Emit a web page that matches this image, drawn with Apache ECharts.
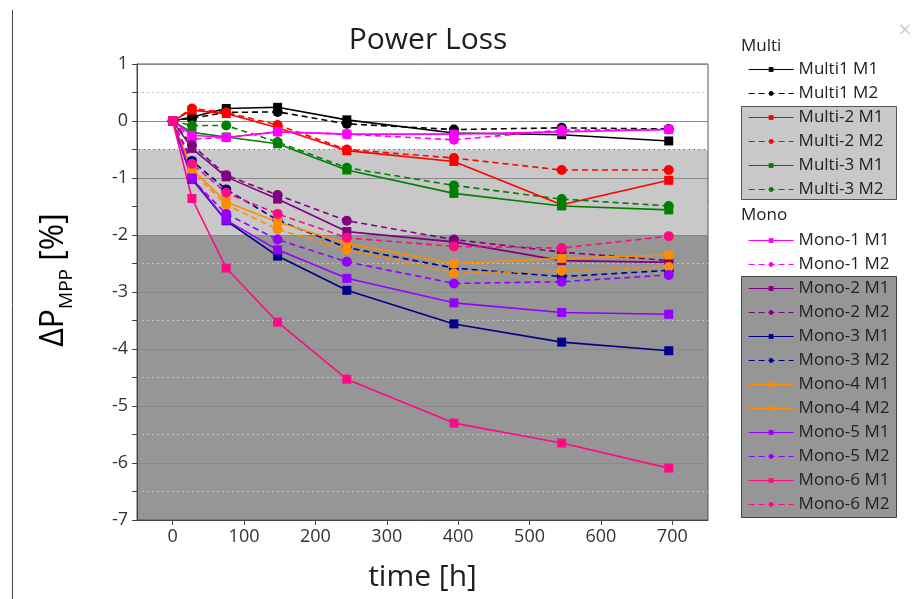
<!DOCTYPE html>
<html>
<head>
<meta charset="utf-8">
<script src="https://cdn.jsdelivr.net/npm/echarts@6/dist/echarts.min.js"></script>
<style>
  html, body { margin: 0; padding: 0; background: #ffffff; }
  #chart { width: 912px; height: 599px; }
</style>
</head>
<body>
<div id="chart"></div>
<script>
// Exposure time of each measurement, in hours
const hours = [0, 27, 75, 147, 244, 394, 545, 695];
const timeTicks = [0, 100, 200, 300, 400, 500, 600, 700];

// Change of MPP power in percent, one array per module and measurement
const multi1M1 = [0, 0.07, 0.22, 0.24, 0.02, -0.21, -0.24, -0.35];
const multi1M2 = [0, 0.05, 0.15, 0.16, -0.05, -0.15, -0.12, -0.14];
const multi2M1 = [0, 0.19, 0.13, -0.12, -0.52, -0.71, -1.47, -1.04];
const multi2M2 = [0, 0.22, 0.15, -0.07, -0.50, -0.65, -0.86, -0.86];
const multi3M1 = [0, -0.20, -0.28, -0.40, -0.86, -1.27, -1.49, -1.56];
const multi3M2 = [0, -0.08, -0.08, -0.37, -0.82, -1.13, -1.37, -1.49];
const mono1M1 = [0, -0.25, -0.29, -0.19, -0.23, -0.23, -0.19, -0.15];
const mono1M2 = [0, -0.32, -0.29, -0.19, -0.23, -0.33, -0.16, -0.15];
const mono2M1 = [0, -0.48, -0.98, -1.37, -1.94, -2.12, -2.45, -2.48];
const mono2M2 = [0, -0.42, -0.95, -1.30, -1.75, -2.08, -2.30, -2.45];
const mono3M1 = [0, -1.02, -1.75, -2.37, -2.97, -3.56, -3.88, -4.03];
const mono3M2 = [0, -0.70, -1.20, -1.74, -2.22, -2.58, -2.73, -2.62];
const mono4M1 = [0, -0.85, -1.42, -1.77, -2.15, -2.50, -2.41, -2.35];
const mono4M2 = [0, -0.90, -1.47, -1.90, -2.26, -2.67, -2.63, -2.56];
const mono5M1 = [0, -1.00, -1.74, -2.26, -2.76, -3.19, -3.36, -3.39];
const mono5M2 = [0, -1.02, -1.63, -2.08, -2.47, -2.85, -2.82, -2.70];
const mono6M1 = [0, -1.36, -2.58, -3.53, -4.53, -5.30, -5.65, -6.09];
const mono6M2 = [0, -0.75, -1.26, -1.63, -2.05, -2.20, -2.23, -2.02];

const multiNames = ['Multi1 M1', 'Multi1 M2', 'Multi-2 M1', 'Multi-2 M2', 'Multi-3 M1', 'Multi-3 M2'];
const monoNames = ['Mono-1 M1', 'Mono-1 M2', 'Mono-2 M1', 'Mono-2 M2', 'Mono-3 M1', 'Mono-3 M2',
                   'Mono-4 M1', 'Mono-4 M2', 'Mono-5 M1', 'Mono-5 M2', 'Mono-6 M1', 'Mono-6 M2'];
const seriesValues = [multi1M1, multi1M2, multi2M1, multi2M2, multi3M1, multi3M2,
                      mono1M1, mono1M2, mono2M1, mono2M2, mono3M1, mono3M2,
                      mono4M1, mono4M2, mono5M1, mono5M2, mono6M1, mono6M2];

// Loss bands: white down to -0.5 %, light grey to -2 %, dark grey below
const lightBand = [-0.5, -2];
const darkBand = [-2, -7];

// Line colour per module pair
const pairColors = ['#000000', '#ff0000', '#008000', '#ff00ff', '#800080',
                    '#00008b', '#ff8c00', '#9400ff', '#ff0a84'];

const FONT = 'Open Sans';
const names = multiNames.concat(monoNames);

const series = names.map((name, i) => {
  const color = pairColors[Math.floor(i / 2)];
  const second = i % 2 === 1;
  const s = {
    name: name,
    type: 'line',
    data: hours.map((h, k) => [h, seriesValues[i][k]]),
    symbol: second ? 'circle' : 'rect',
    symbolSize: second ? 10 : 9,
    showSymbol: true,
    color: color,
    lineStyle: { color: color, width: 1.6, type: second ? [6, 4] : 'solid' },
    itemStyle: { color: color },
    emphasis: { disabled: true },
    z: 2
  };
  if (i === 0) {
    s.markArea = {
      silent: true,
      z: 0.5,
      data: [
        [{ yAxis: lightBand[0], itemStyle: { color: '#c8c8c8' } }, { yAxis: lightBand[1] }],
        [{ yAxis: darkBand[0], itemStyle: { color: '#969696' } }, { yAxis: darkBand[1] }]
      ]
    };
    s.markLine = {
      silent: true,
      z: 1.2,
      symbol: 'none',
      label: { show: false },
      lineStyle: { color: '#555555', width: 1, type: [3, 2] },
      data: [{ yAxis: lightBand[0] }]
    };
  }
  return s;
});

// Mono-4 entries are both keyed with a plain line
const monoLegendData = monoNames.map(n => {
  if (n === 'Mono-4 M2') return { name: n, lineStyle: { type: 'solid' } };
  return { name: n };
});

const legendCommon = {
  orient: 'vertical',
  left: 743,
  itemWidth: 45,
  itemHeight: 6,
  itemGap: 7,
  selectedMode: false,
  lineStyle: { width: 1.2 },
  textStyle: { fontFamily: FONT, fontSize: 17, color: '#222222' }
};

const chart = echarts.init(document.getElementById('chart'), null, { renderer: 'canvas' });
chart.setOption({
  animation: false,
  backgroundColor: '#ffffff',
  title: {
    text: 'Power Loss',
    left: 423,
    top: 20,
    textAlign: 'center',
    textStyle: { fontFamily: FONT, fontSize: 30, fontWeight: 'normal', color: '#1e1e1e' }
  },
  grid: {
    left: 137, right: 204, top: 64, bottom: 79,
    show: true, z: 1.5, borderColor: '#555555', borderWidth: 1, backgroundColor: 'transparent'
  },
  xAxis: {
    type: 'value',
    min: -50,
    max: 750,
    z: 1.5,
    axisLine: { show: true, onZero: false, lineStyle: { color: '#444444', width: 1 } },
    axisTick: { show: true, length: 5, customValues: timeTicks, lineStyle: { color: '#444444' } },
    axisLabel: { customValues: timeTicks, fontFamily: FONT, fontSize: 18, color: '#333333', margin: 8 },
    splitLine: { show: false },
    name: 'time [h]',
    nameLocation: 'middle',
    nameGap: 42,
    nameTextStyle: { fontFamily: FONT, fontSize: 30, color: '#1e1e1e' }
  },
  yAxis: {
    type: 'value',
    min: -7,
    max: 1,
    interval: 1,
    z: 1.5,
    axisLine: { show: true, onZero: false, lineStyle: { color: '#444444', width: 1 } },
    axisTick: { show: true, length: 5, lineStyle: { color: '#444444' } },
    minorTick: { show: true, splitNumber: 2, length: 5, lineStyle: { color: '#444444' } },
    axisLabel: { fontFamily: FONT, fontSize: 18, color: '#333333', margin: 9 },
    splitLine: { show: true, lineStyle: { color: '#8a8a8a', width: 1 } },
    minorSplitLine: { show: true, lineStyle: { color: '#c4c4c4', width: 1, type: [2, 3] } }
  },
  legend: [
    Object.assign({ top: 56, data: multiNames }, legendCommon),
    Object.assign({ top: 227, data: monoLegendData }, legendCommon)
  ],
  graphic: [
    { type: 'line', shape: { x1: 12.5, y1: 10, x2: 12.5, y2: 599 }, style: { stroke: '#444444', lineWidth: 1 }, z: 0 },
    { type: 'rect', shape: { x: 741.5, y: 106.5, width: 155, height: 93 },
      style: { fill: '#c8c8c8', stroke: '#555555', lineWidth: 1 }, z: 0 },
    { type: 'rect', shape: { x: 741.5, y: 276.5, width: 155, height: 241 },
      style: { fill: '#969696', stroke: '#444444', lineWidth: 1 }, z: 0 },
    { type: 'text', x: 741, y: 46, style: { text: 'Multi', font: '17px "Open Sans"', fill: '#1e1e1e', textVerticalAlign: 'middle' } },
    { type: 'text', x: 741, y: 215, style: { text: 'Mono', font: '17px "Open Sans"', fill: '#1e1e1e', textVerticalAlign: 'middle' } },
    { type: 'text', x: 905, y: 30, style: { text: '×', font: '18px "DejaVu Sans"', fill: '#cccccc', textAlign: 'center', textVerticalAlign: 'middle' } },
    {
      type: 'text', x: 50, y: 280, rotation: Math.PI / 2,
      style: {
        text: '{a|ΔP}{b|MPP}{a| [%]}',
        textAlign: 'center', textVerticalAlign: 'middle',
        rich: {
          a: { fontFamily: FONT, fontSize: 32, color: '#1e1e1e', lineHeight: 40, verticalAlign: 'bottom' },
          b: { fontFamily: FONT, fontSize: 19, color: '#1e1e1e', lineHeight: 40, verticalAlign: 'bottom', padding: [0, 0, -6, 0] }
        }
      }
    }
  ],
  series: series
});
</script>
</body>
</html>
